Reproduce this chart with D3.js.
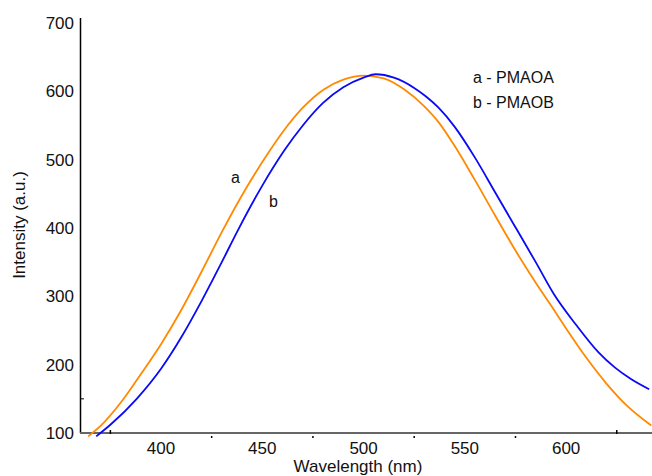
<!DOCTYPE html>
<html>
<head>
<meta charset="utf-8">
<script src="https://cdn.jsdelivr.net/npm/d3@7"></script>
<style>
  body { margin: 0; background: #fff; }
  text { font-family: "Liberation Sans", Arial, sans-serif; fill: #111; }
</style>
</head>
<body>
<div id="chart"></div>
<script>
// spectra (wavelength nm, intensity a.u.)
var waveA = [364, 370, 381, 390, 400, 410, 420, 430, 440, 453, 460, 470, 480, 490, 500, 510, 520, 530, 537, 545, 555, 565, 575, 585, 592, 600, 610, 620, 630, 642];
var intA  = [ 95, 110, 148, 186, 230, 280, 336, 394, 448, 510, 540, 576, 602, 617, 623, 619, 603, 578, 555, 520, 470, 418, 367, 320, 289, 253, 210, 172, 140, 111];

var waveB = [368, 375, 388, 400, 410, 420, 430, 438, 450, 461, 470, 480, 490, 500, 506, 515, 525, 531, 537, 545, 555, 565, 575, 585, 594, 605, 616, 624, 632, 641];
var intB  = [ 95, 112, 150, 194, 240, 293, 350, 397, 462, 514, 550, 583, 606, 620, 625, 620, 605, 592, 576, 548, 503, 452, 401, 350, 303, 258, 218, 196, 179, 164];

var xTickLabels = [400, 450, 500, 550, 600];
var xMinorTicks = [375, 425, 475, 525, 575, 625];
var yTickLabels = [100, 200, 300, 400, 500, 600, 700];
var legendLines = ["a - PMAOA", "b - PMAOB"];

var width = 652, height = 476;

var x = d3.scaleLinear().domain([360, 642.4]).range([80, 652]);
var y = d3.scaleLinear().domain([100, 700]).range([433, 23]);

var svg = d3.select("#chart").append("svg")
    .attr("width", width)
    .attr("height", height);

// y axis line + labels
svg.append("line")
    .attr("x1", 80.5).attr("x2", 80.5)
    .attr("y1", 18).attr("y2", 433)
    .attr("stroke", "#000").attr("stroke-width", 1.5);

svg.selectAll(".ylab").data(yTickLabels).enter().append("text")
    .attr("class", "ylab")
    .attr("x", 74)
    .attr("y", function (d) { return y(d) + 6; })
    .attr("text-anchor", "end")
    .style("font-size", "17px")
    .text(function (d) { return d; });

// small inner tick on y axis
svg.append("line")
    .attr("x1", 81).attr("x2", 84)
    .attr("y1", y(150)).attr("y2", y(150))
    .attr("stroke", "#000");

// x axis line (grey) + labels
svg.append("line")
    .attr("x1", 80).attr("x2", 652)
    .attr("y1", 433).attr("y2", 433)
    .attr("stroke", "#666").attr("stroke-width", 2);

svg.selectAll(".xtick").data(xMinorTicks).enter().append("line")
    .attr("class", "xtick")
    .attr("x1", function (d) { return x(d); })
    .attr("x2", function (d) { return x(d); })
    .attr("y1", function (d, i) { return (i == 0 || i == xMinorTicks.length - 1) ? 430 : 436; })
    .attr("y2", function (d, i) { return (i == 0 || i == xMinorTicks.length - 1) ? 434 : 438; })
    .attr("stroke", "#000").attr("stroke-width", 1.5);

svg.selectAll(".xlab").data(xTickLabels).enter().append("text")
    .attr("class", "xlab")
    .attr("x", function (d) { return x(d); })
    .attr("y", 454)
    .attr("text-anchor", "middle")
    .style("font-size", "17px")
    .text(function (d) { return d; });

svg.append("text")
    .attr("x", 358).attr("y", 472)
    .attr("text-anchor", "middle")
    .style("font-size", "17px")
    .text("Wavelength (nm)");

svg.append("text")
    .attr("transform", "translate(25,225) rotate(-90)")
    .attr("text-anchor", "middle")
    .style("font-size", "17px")
    .text("Intensity (a.u.)");

// curves
var line = d3.line().curve(d3.curveMonotoneX)
    .x(function (d) { return x(d[0]); })
    .y(function (d) { return y(d[1]); });

svg.append("path")
    .datum(d3.zip(waveA, intA))
    .attr("d", line)
    .attr("fill", "none")
    .attr("stroke", "#ff8a00")
    .attr("stroke-width", 1.8);

svg.append("path")
    .datum(d3.zip(waveB, intB))
    .attr("d", line)
    .attr("fill", "none")
    .attr("stroke", "#0a0af5")
    .attr("stroke-width", 1.8);

// curve labels
svg.append("text").attr("x", 231).attr("y", 183).style("font-size", "16px").text("a");
svg.append("text").attr("x", 269).attr("y", 207).style("font-size", "16px").text("b");

// legend text
svg.selectAll(".leg").data(legendLines).enter().append("text")
    .attr("class", "leg")
    .attr("x", 473)
    .attr("y", function (d, i) { return 83 + i * 25; })
    .style("font-size", "16px")
    .text(function (d) { return d; });
</script>
</body>
</html>
